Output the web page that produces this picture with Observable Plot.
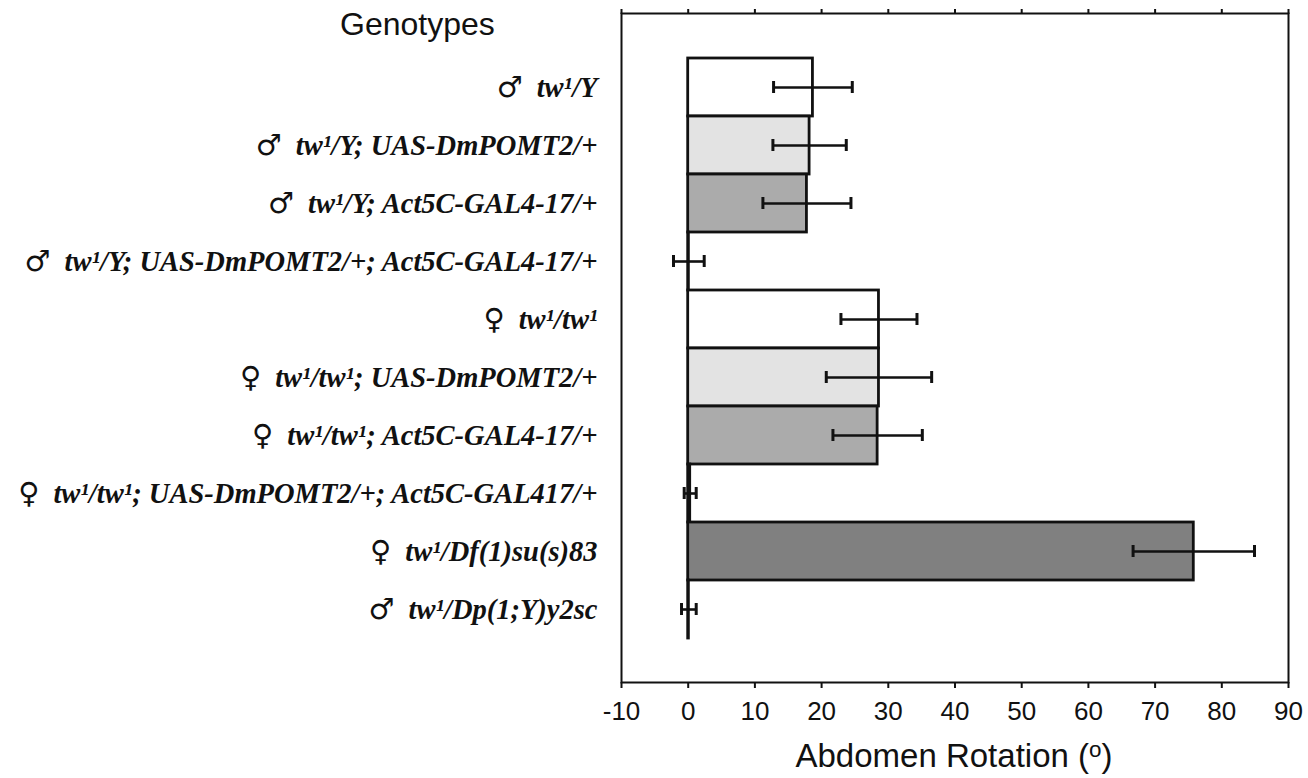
<!DOCTYPE html>
<html><head><meta charset="utf-8">
<script src="https://cdn.jsdelivr.net/npm/d3@7"></script>
<script src="https://cdn.jsdelivr.net/npm/@observablehq/plot@0.6"></script>
<style>
body{margin:0;background:#fff}
#chart{position:relative;width:1308px;height:778px}
.ttl{position:absolute;font-family:"Liberation Sans",Arial,sans-serif;color:#111;line-height:1;white-space:nowrap}
.ttl sup{font-size:0.68em;vertical-align:0.45em}
</style>
</head><body>
<div id="chart">
  <div class="ttl" id="gen" style="left:340px;top:8px;font-size:32px">Genotypes</div>
  <div class="ttl" id="xt" style="left:620px;width:668px;top:739px;font-size:33px;text-align:center">Abdomen Rotation (<sup>o</sup>)</div>
</div>
<script>
// ---- data ----
const sexes = ["♂","♂","♂","♂","♀","♀","♀","♀","♀","♂"];
const genotypes = [
  "tw¹/Y",
  "tw¹/Y; UAS-DmPOMT2/+",
  "tw¹/Y; Act5C-GAL4-17/+",
  "tw¹/Y; UAS-DmPOMT2/+; Act5C-GAL4-17/+",
  "tw¹/tw¹",
  "tw¹/tw¹; UAS-DmPOMT2/+",
  "tw¹/tw¹; Act5C-GAL4-17/+",
  "tw¹/tw¹; UAS-DmPOMT2/+; Act5C-GAL417/+",
  "tw¹/Df(1)su(s)83",
  "tw¹/Dp(1;Y)y2sc"
];
const groups = ["tw1","UAS","GAL4","UAS+GAL4","tw1","UAS","GAL4","UAS+GAL4","Df","Dp"];
const means  = [18.7, 18.2, 17.8, 0.1, 28.6, 28.6, 28.4, 0.3, 75.8, 0.1];
const errors = [5.9, 5.5, 6.6, 2.3, 5.7, 7.9, 6.7, 0.9, 9.1, 1.1];
const xTicks = [-10, 0, 10, 20, 30, 40, 50, 60, 70, 80, 90];

const groupDomain = ["tw1","UAS","GAL4","UAS+GAL4","Df","Dp"];
const groupColors = ["#ffffff","#e3e3e3","#ababab","#ffffff","#808080","#ffffff"];

const data = genotypes.map((g, i) => ({
  genotype: g, sex: sexes[i], group: groups[i], mean: means[i], err: errors[i]
}));

const svg = Plot.plot({
  width: 1308,
  height: 778,
  marginLeft: 621,
  marginRight: 20,
  marginTop: 13,
  marginBottom: 96,
  style: {fontFamily: "'Liberation Sans', Arial, sans-serif", fontSize: "26px", color: "#111", background: "#fff"},
  x: {domain: [-10, 90]},
  y: {domain: genotypes, padding: 0, insetTop: 44, insetBottom: 44},
  color: {domain: groupDomain, range: groupColors},
  marks: [
    Plot.barX(data, {y: "genotype", x1: 0, x2: "mean", fill: "group", stroke: "#111", strokeWidth: 2.8}),
    Plot.ruleY(data, {y: "genotype", x1: d => d.mean - d.err, x2: d => d.mean + d.err, stroke: "#111", strokeWidth: 2.6}),
    Plot.tickX(data, {y: "genotype", x: d => d.mean - d.err, stroke: "#111", strokeWidth: 3, insetTop: 23, insetBottom: 23}),
    Plot.tickX(data, {y: "genotype", x: d => d.mean + d.err, stroke: "#111", strokeWidth: 3, insetTop: 23, insetBottom: 23}),
    Plot.frame({stroke: "#111", strokeWidth: 2}),
    Plot.axisX({anchor: "bottom", ticks: xTicks, tickSize: 6, tickPadding: 13, strokeWidth: 2, label: null, fontSize: 26,
      tickFormat: d => String(d)}),
    Plot.axisX({anchor: "top", ticks: xTicks, tickSize: 5, strokeWidth: 2, tickFormat: () => "", label: null}),
    Plot.axisY({anchor: "left", tickSize: 0, tickPadding: 24, label: null, className: "ylab",
      tickFormat: g => sexes[genotypes.indexOf(g)] + " " + g,
      fontSize: 28.5, fontFamily: "'Liberation Serif', 'Times New Roman', serif", fontWeight: "bold", fontStyle: "italic"})
  ]
});

d3.select(svg).selectAll(".ylab text").each(function() {
  const t = this.textContent;
  const sym = t[0];
  const rest = t.slice(2);
  const s = d3.select(this);
  s.text(null);
  s.append("tspan").attr("font-family", "'DejaVu Sans', sans-serif").attr("font-style", "normal")
    .attr("font-weight", "normal").attr("font-size", 29).text(sym);
  s.append("tspan").attr("dx", 14).text(rest);
});

document.getElementById("chart").prepend(svg);
svg.style.position = "absolute";
svg.style.left = "0";
svg.style.top = "0";
</script>
</body></html>
